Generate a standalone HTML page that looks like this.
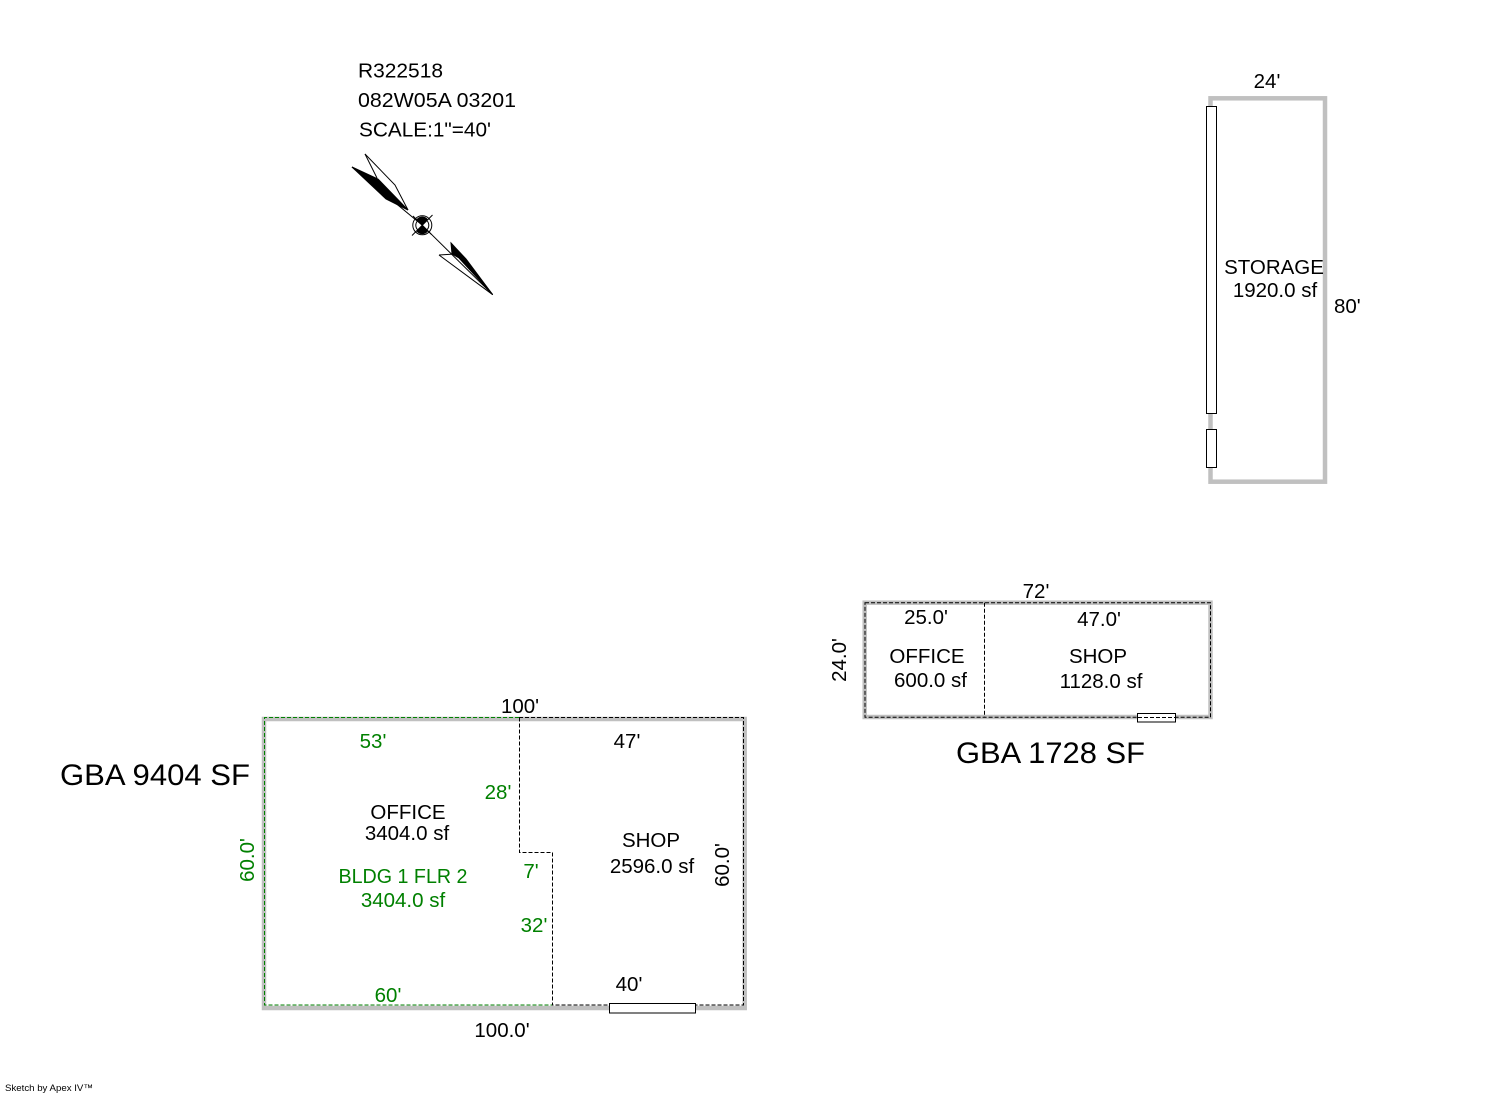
<!DOCTYPE html>
<html>
<head>
<meta charset="utf-8">
<style>
html,body{margin:0;padding:0;background:#fff;}
svg{display:block;}
text{font-family:"Liberation Sans",Arial,sans-serif;}
</style>
</head>
<body>
<svg width="1492" height="1094" viewBox="0 0 1492 1094" xmlns="http://www.w3.org/2000/svg">
<rect x="0" y="0" width="1492" height="1094" fill="#fff"/>

<!-- Header -->
<g font-size="20.5" fill="#000">
<text x="358" y="77.5" textLength="85" lengthAdjust="spacingAndGlyphs">R322518</text>
<text x="358" y="107" textLength="158" lengthAdjust="spacingAndGlyphs">082W05A 03201</text>
<text x="359" y="136.5" textLength="132" lengthAdjust="spacingAndGlyphs">SCALE:1"=40'</text>
</g>

<!-- Compass -->
<g stroke="#000" stroke-width="1" fill="none">
  <line x1="352" y1="167" x2="422.3" y2="225.3"/>
  <line x1="422.3" y1="225.3" x2="492.7" y2="294.7"/>
  <polygon points="352,167 378,179 408,210 386,199" fill="#000"/>
  <line x1="352" y1="167" x2="403" y2="205"/>
  <polyline points="365,154 395,185 408,210"/>
  <line x1="365" y1="154" x2="377" y2="178"/>
  <polygon points="451,243 466,259 492.7,294.7 459,258 452,254" fill="#000"/>
  <line x1="451" y1="243" x2="492.7" y2="294.7"/>
  <polyline points="439,255 455,254"/>
  <line x1="439" y1="255" x2="492.7" y2="294.7"/>
  <circle cx="422.3" cy="225.3" r="9.5"/>
  <circle cx="422.3" cy="225.3" r="6.5"/>
  <path d="M416.5,219.5 A7,7 0 0 1 428,219.5 L422.3,225.3 Z" fill="#000" stroke="none"/>
  <path d="M416.5,231.2 A7,7 0 0 0 428,231.2 L422.3,225.3 Z" fill="#000" stroke="none"/>
  <line x1="412" y1="235.5" x2="432.5" y2="215"/>
  <line x1="413" y1="216" x2="431.5" y2="234.5"/>
</g>

<!-- Storage building -->
<rect x="1210.5" y="98.3" width="114.5" height="383.4" fill="none" stroke="#c0c0c0" stroke-width="4.5"/>
<rect x="1206.5" y="106.5" width="10" height="307" fill="#fff" stroke="#000" stroke-width="1"/>
<rect x="1206.5" y="429.5" width="10" height="38" fill="#fff" stroke="#000" stroke-width="1"/>
<g font-size="20.5" fill="#000">
<text x="1267" y="88" text-anchor="middle">24'</text>
<text x="1274" y="274" text-anchor="middle">STORAGE</text>
<text x="1275" y="297" text-anchor="middle">1920.0 sf</text>
<text x="1334" y="313">80'</text>
</g>

<!-- Middle building -->
<rect x="864.7" y="602.7" width="345.8" height="114.3" fill="none" stroke="#c0c0c0" stroke-width="4.5"/>
<rect x="865" y="602.7" width="345.5" height="114.6" fill="none" stroke="#000" stroke-width="1" stroke-dasharray="4,2"/>
<line x1="984.5" y1="602.7" x2="984.5" y2="717.3" stroke="#000" stroke-width="1" stroke-dasharray="4,2"/>
<rect x="1137.5" y="713.5" width="38" height="8.5" fill="#fff" stroke="#000" stroke-width="1"/>
<line x1="1138" y1="717.5" x2="1175" y2="717.5" stroke="#000" stroke-width="1" stroke-dasharray="4,2"/>
<g font-size="20.5" fill="#000">
<text x="1036" y="598" text-anchor="middle">72'</text>
<text x="926" y="624" text-anchor="middle">25.0'</text>
<text x="1099" y="626" text-anchor="middle">47.0'</text>
<text x="927" y="663" text-anchor="middle">OFFICE</text>
<text x="930.5" y="687" text-anchor="middle">600.0 sf</text>
<text x="1098" y="663" text-anchor="middle">SHOP</text>
<text x="1101" y="688" text-anchor="middle">1128.0 sf</text>
<text x="846" y="660" text-anchor="middle" transform="rotate(-90 846 660)">24.0'</text>
</g>
<text x="956" y="763" font-size="30" fill="#000" textLength="189" lengthAdjust="spacingAndGlyphs">GBA 1728 SF</text>

<!-- Left building -->
<rect x="264" y="719" width="480.7" height="289" fill="none" stroke="#c0c0c0" stroke-width="4.5"/>
<path d="M519,717.5 H264.5 V1005 H552" fill="none" stroke="#008000" stroke-width="1" stroke-dasharray="4,2"/>
<path d="M519,717.5 H743.5 V1005 H552" fill="none" stroke="#000" stroke-width="1" stroke-dasharray="4,2"/>
<path d="M519.5,717.5 V852.5 H552.5 V1005" fill="none" stroke="#000" stroke-width="1" stroke-dasharray="4,2"/>
<rect x="609.5" y="1003.5" width="86" height="9.5" fill="#fff" stroke="#000" stroke-width="1"/>

<text x="60" y="785" font-size="30" fill="#000" textLength="190" lengthAdjust="spacingAndGlyphs">GBA 9404 SF</text>

<g font-size="20.5" fill="#000">
<text x="520" y="713" text-anchor="middle">100'</text>
<text x="502" y="1037" text-anchor="middle">100.0'</text>
<text x="408" y="819" text-anchor="middle">OFFICE</text>
<text x="407" y="840" text-anchor="middle">3404.0 sf</text>
<text x="627" y="748" text-anchor="middle">47'</text>
<text x="651" y="847" text-anchor="middle">SHOP</text>
<text x="652" y="873" text-anchor="middle">2596.0 sf</text>
<text x="629" y="991" text-anchor="middle">40'</text>
<text x="729" y="865" text-anchor="middle" transform="rotate(-90 729 865)">60.0'</text>
</g>
<g font-size="20.5" fill="#008000">
<text x="373" y="748" text-anchor="middle">53'</text>
<text x="498" y="799" text-anchor="middle">28'</text>
<text x="403" y="883" text-anchor="middle" textLength="129" lengthAdjust="spacingAndGlyphs">BLDG 1 FLR 2</text>
<text x="403" y="907" text-anchor="middle">3404.0 sf</text>
<text x="531" y="878" text-anchor="middle">7'</text>
<text x="534" y="932" text-anchor="middle">32'</text>
<text x="388" y="1002" text-anchor="middle">60'</text>
<text x="254" y="860" text-anchor="middle" transform="rotate(-90 254 860)">60.0'</text>
</g>

<!-- Footer -->
<text x="5" y="1091" font-size="9.5" fill="#000" textLength="88" lengthAdjust="spacingAndGlyphs">Sketch by Apex IV™</text>
</svg>
</body>
</html>
